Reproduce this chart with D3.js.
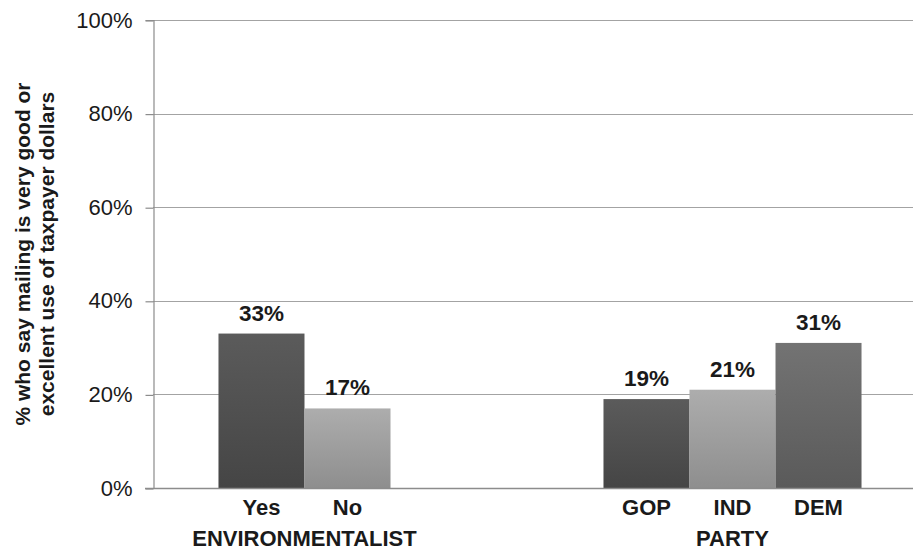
<!DOCTYPE html>
<html>
<head>
<meta charset="utf-8">
<script src="https://cdn.jsdelivr.net/npm/d3@7"></script>
<style>
  html, body { margin: 0; padding: 0; background: #ffffff; }
  svg { display: block; font-family: "Liberation Sans", Arial, sans-serif; }
</style>
</head>
<body>
<svg id="chart" width="913" height="552"></svg>
<script>
// Survey groups and their answer categories
const groups = ["ENVIRONMENTALIST", "PARTY"];
const categories = ["Yes", "No", "GOP", "IND", "DEM"];
const categoryGroup = ["ENVIRONMENTALIST", "ENVIRONMENTALIST", "PARTY", "PARTY", "PARTY"];
// Share (%) who say the mailing is a very good or excellent use of taxpayer dollars
const values = [33, 17, 19, 21, 31];
const shade = ["dark", "light", "dark", "light", "mid"];
const yTicks = [0, 20, 40, 60, 80, 100];
const yTitle = ["% who say mailing is very good or", "excellent use of taxpayer dollars"];

const W = 913, H = 552;
const margin = { left: 153, top: 20, bottom: 488 };
const svg = d3.select("#chart");

const y = d3.scaleLinear().domain([0, 100]).range([margin.bottom, margin.top]);
const x0 = d3.scaleBand().domain(groups).range([155, 925]);
const slots = [0, 1, 2];
const x1 = d3.scaleBand().domain(slots).range([0, x0.bandwidth()]).paddingInner(0).paddingOuter(0.738);

// slot of each category inside its group
const slotOf = categories.map((c, i) =>
  categories.slice(0, i).filter((_, j) => categoryGroup[j] === categoryGroup[i]).length);
const barX = i => x0(categoryGroup[i]) + x1(slotOf[i]);

// vertical gradients for the bar fills
const shades = {
  dark: ["#5b5b5b", "#454545"],
  light: ["#adadad", "#8e8e8e"],
  mid: ["#737373", "#5a5a5a"]
};
const defs = svg.append("defs");
Object.entries(shades).forEach(([k, [top, bottom]]) => {
  const g = defs.append("linearGradient").attr("id", "grad-" + k)
    .attr("x1", 0).attr("y1", 0).attr("x2", 0).attr("y2", 1);
  g.append("stop").attr("offset", "0%").attr("stop-color", top);
  g.append("stop").attr("offset", "100%").attr("stop-color", bottom);
});

// horizontal gridlines
svg.append("g")
  .selectAll("line")
  .data(yTicks.filter(t => t > 0))
  .join("line")
  .attr("x1", margin.left).attr("x2", W)
  .attr("y1", d => Math.round(y(d)) + 0.5).attr("y2", d => Math.round(y(d)) + 0.5)
  .attr("stroke", "#a3a3a3").attr("stroke-width", 1.2);

// y axis with percent labels
const yAxis = d3.axisLeft(y).tickValues(yTicks).tickFormat(d => d + "%").tickSize(8).tickPadding(13);
const ya = svg.append("g").attr("transform", `translate(${margin.left + 0.5},0)`).call(yAxis);
ya.select(".domain").attr("stroke", "#8c8c8c").attr("stroke-width", 1.2);
ya.selectAll(".tick line").attr("stroke", "#8c8c8c").attr("stroke-width", 1.2)
  .attr("transform", "translate(0,0.5)");
ya.selectAll(".tick text")
  .attr("font-family", "'Liberation Sans', Arial, sans-serif")
  .attr("font-size", 22).attr("fill", "#1a1a1a");

// bars
svg.append("g")
  .selectAll("rect")
  .data(values)
  .join("rect")
  .attr("x", (d, i) => barX(i))
  .attr("y", d => y(d))
  .attr("width", x1.bandwidth())
  .attr("height", d => y(0) - y(d))
  .attr("fill", (d, i) => `url(#grad-${shade[i]})`);

// baseline
svg.append("line")
  .attr("x1", margin.left - 8).attr("x2", W)
  .attr("y1", margin.bottom + 0.5).attr("y2", margin.bottom + 0.5)
  .attr("stroke", "#8c8c8c").attr("stroke-width", 1.4);

// value labels above bars
svg.append("g")
  .selectAll("text")
  .data(values)
  .join("text")
  .attr("x", (d, i) => barX(i) + x1.bandwidth() / 2)
  .attr("y", d => y(d) - 13)
  .attr("text-anchor", "middle")
  .attr("font-size", 22.5).attr("font-weight", "bold").attr("fill", "#1a1a1a")
  .text(d => d + "%");

// category labels
svg.append("g")
  .selectAll("text")
  .data(categories)
  .join("text")
  .attr("x", (d, i) => barX(i) + x1.bandwidth() / 2)
  .attr("y", 515)
  .attr("text-anchor", "middle")
  .attr("font-size", 22).attr("font-weight", "bold").attr("fill", "#1a1a1a")
  .text(d => d);

// group labels centred beneath each group's bars
svg.append("g")
  .selectAll("text")
  .data(groups)
  .join("text")
  .attr("x", g => {
    const idx = categories.map((c, i) => i).filter(i => categoryGroup[i] === g);
    const left = barX(idx[0]);
    const right = barX(idx[idx.length - 1]) + x1.bandwidth();
    return (left + right) / 2;
  })
  .attr("y", 546)
  .attr("text-anchor", "middle")
  .attr("font-size", 22).attr("font-weight", "bold").attr("fill", "#1a1a1a")
  .text(d => d);

// rotated y axis title
const yc = (margin.top + margin.bottom) / 2;
svg.append("text")
  .attr("transform", `translate(30,${yc}) rotate(-90)`)
  .attr("text-anchor", "middle")
  .attr("font-size", 21).attr("font-weight", "bold").attr("fill", "#1a1a1a")
  .selectAll("tspan")
  .data(yTitle)
  .join("tspan")
  .attr("x", 0)
  .attr("dy", (d, i) => i === 0 ? 0 : 24)
  .text(d => d);
</script>
</body>
</html>
